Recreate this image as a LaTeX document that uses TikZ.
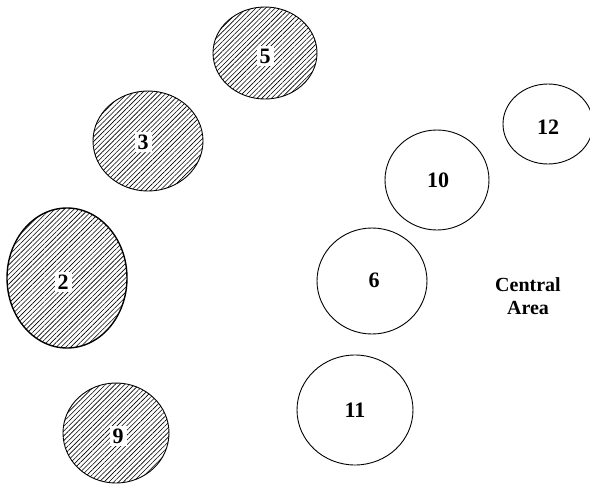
\documentclass[tikz,border=0pt]{standalone}
\usepackage{fontspec}
\setmainfont{Liberation Serif}
\usetikzlibrary{patterns.meta}
\begin{document}
\begin{tikzpicture}[x=1pt,y=-1pt,
  zone/.style={draw=black, line width=0.9pt},
  hatched/.style={zone, pattern={Lines[angle=45,distance=3.4pt,line width=0.6pt]}},
  lbl/.style={font=\bfseries\fontsize{22}{24}\selectfont, inner sep=1.5pt},
  wlbl/.style={lbl, fill=white, inner xsep=3pt, inner ysep=2.5pt}]
\clip (0,0) rectangle (590,490);
\useasboundingbox (0,0) rectangle (590,490);
% hatched zones
\draw[hatched] (265,53) ellipse [x radius=52, y radius=46];
\draw[hatched] (148,141) ellipse [x radius=55, y radius=50];
\draw[hatched, line width=1.4pt] (67,278) ellipse [x radius=60, y radius=70];
\draw[hatched] (116,433) ellipse [x radius=53, y radius=50];
% plain zones
\draw[zone] (548,124) ellipse [x radius=45, y radius=40];
\draw[zone] (437,180) ellipse [x radius=52, y radius=50];
\draw[zone] (372,281) ellipse [x radius=55, y radius=53];
\draw[zone] (355,410) ellipse [x radius=58, y radius=55];
% labels
\node[wlbl] (n5) at (265,56) {5};
\node[wlbl] (n3) at (143,142) {3};
\node[wlbl] (n2) at (63,282) {2};
\node[wlbl] (n9) at (118,436) {9};
\node[lbl] (n12) at (548,127) {12};
\node[lbl] (n10) at (438,180) {10};
\node[lbl] (n6) at (374,280) {6};
\node[lbl] (n11) at (355,410) {11};
\node[lbl, align=center, font=\bfseries\fontsize{20}{23}\selectfont] (ca) at (528,296) {Central\\Area};
\end{tikzpicture}
\end{document}
